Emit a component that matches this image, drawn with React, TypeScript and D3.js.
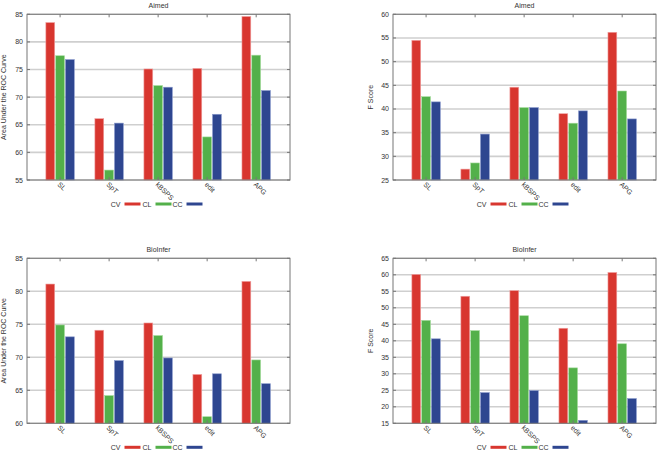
import React from "react";
import * as d3 from "d3";

const categories = ["SL", "SpT", "kBSPS", "edit", "APG"];
const seriesNames = ["CV", "CL", "CC"];
const seriesColors = ["#d8362f", "#53b04a", "#2e4690"];
const seriesStroke = ["#f0a0a0", "#a8dca0", "#8a9acc"];

// Aimed – AUC
const aimedAucCV = [83.5, 66.1, 75.1, 75.2, 84.6];
const aimedAucCL = [77.5, 56.8, 72.1, 62.8, 77.6];
const aimedAucCC = [76.8, 65.3, 71.8, 66.9, 71.2];
// Aimed – F score
const aimedFCV = [54.5, 27.3, 44.6, 39.0, 56.2];
const aimedFCL = [42.6, 28.6, 40.3, 37.0, 43.8];
const aimedFCC = [41.5, 34.7, 40.3, 39.6, 37.9];
// BioInfer – AUC
const bioAucCV = [81.1, 74.1, 75.2, 67.4, 81.5];
const bioAucCL = [74.9, 64.2, 73.3, 61.0, 69.6];
const bioAucCC = [73.1, 69.5, 69.9, 67.5, 66.0];
// BioInfer – F score
const bioFCV = [60.1, 53.5, 55.2, 43.8, 60.7];
const bioFCL = [46.2, 43.1, 47.6, 31.8, 39.1];
const bioFCC = [40.6, 24.3, 24.9, 15.9, 22.5];

const aucAimedTicks = [55, 60, 65, 70, 75, 80, 85];
const fAimedTicks = [25, 30, 35, 40, 45, 50, 55, 60];
const aucBioTicks = [60, 65, 70, 75, 80, 85];
const fBioTicks = [15, 20, 25, 30, 35, 40, 45, 50, 55, 60, 65];

const FONT = "'Liberation Sans', Arial, Helvetica, sans-serif";

type PanelProps = {
  left: number;
  right: number;
  top: number;
  bottom: number;
  title: string;
  ylabel: string;
  ylabelX: number;
  ticks: number[];
  series: number[][];
};

function Panel({ left, right, top, bottom, title, ylabel, ylabelX, ticks, series }: PanelProps) {
  const x = d3.scaleLinear().domain([-0.675, 4.69]).range([left, right]);
  const y = d3
    .scaleLinear()
    .domain([ticks[0], ticks[ticks.length - 1]])
    .range([bottom, top]);
  const offsets = [-0.2, 0, 0.2];
  const bw = x(0.18) - x(0);
  const cx = (left + right) / 2;
  const cy = (top + bottom) / 2;
  const legendY = bottom + 24;
  const legendStart = cx - 46;
  return (
    <g fontFamily={FONT}>
      <text x={cx} y={top - 6} fontSize={7} textAnchor="middle" fill="#333">
        {title}
      </text>
      {ticks.map((t) => (
        <line key={"g" + t} x1={left} x2={right} y1={y(t)} y2={y(t)} stroke="#cfcfcf" strokeWidth={1.6} />
      ))}
      {series.map((vals, si) =>
        vals.map((v, ci) => (
          <rect
            key={si + "-" + ci}
            x={x(ci + offsets[si]) - bw / 2}
            y={y(v)}
            width={bw}
            height={y(ticks[0]) - y(v)}
            fill={seriesColors[si]}
            stroke={seriesStroke[si]}
            strokeWidth={0.6}
          />
        ))
      )}
      <rect x={left} y={top} width={right - left} height={bottom - top} fill="none" stroke="#777" strokeWidth={1} />
      {ticks.map((t) => (
        <g key={"t" + t}>
          <line x1={left} x2={left + 3} y1={y(t)} y2={y(t)} stroke="#777" />
          <line x1={right - 3} x2={right} y1={y(t)} y2={y(t)} stroke="#777" />
          <text x={left - 4} y={y(t) + 2.5} fontSize={7} textAnchor="end" fill="#333">
            {t}
          </text>
        </g>
      ))}
      {categories.map((c, i) => (
        <g key={c}>
          <line x1={x(i)} x2={x(i)} y1={top} y2={top + 3} stroke="#777" />
          <line x1={x(i)} x2={x(i)} y1={bottom - 3} y2={bottom} stroke="#777" />
          <text
            transform={`translate(${x(i) - 3},${bottom + 5}) rotate(45)`}
            fontSize={7}
            fill="#333"
            textAnchor="start"
          >
            {c}
          </text>
        </g>
      ))}
      <text
        transform={`translate(${ylabelX},${cy}) rotate(-90)`}
        fontSize={7}
        textAnchor="middle"
        fill="#333"
      >
        {ylabel}
      </text>
      {seriesNames.map((s, si) => {
        const lx = legendStart + si * 31;
        return (
          <g key={s}>
            <text x={lx + 8} y={legendY + 2.5} fontSize={7} textAnchor="end" fill="#333">
              {s}
            </text>
            <line x1={lx + 12} x2={lx + 28} y1={legendY} y2={legendY} stroke={seriesColors[si]} strokeWidth={3} />
          </g>
        );
      })}
    </g>
  );
}

export default function App() {
  return (
    <svg width={660} height={454} style={{ position: "absolute", left: 0, top: 0, background: "#fff" }}>
      <rect width={660} height={454} fill="#fff" />
      <Panel
        left={27}
        right={290}
        top={14.3}
        bottom={180}
        title="Aimed"
        ylabel="Area Under the ROC Curve"
        ylabelX={6}
        ticks={aucAimedTicks}
        series={[aimedAucCV, aimedAucCL, aimedAucCC]}
      />
      <Panel
        left={393}
        right={656}
        top={14.3}
        bottom={180}
        title="Aimed"
        ylabel="F Score"
        ylabelX={373}
        ticks={fAimedTicks}
        series={[aimedFCV, aimedFCL, aimedFCC]}
      />
      <Panel
        left={27}
        right={290}
        top={258.3}
        bottom={423.3}
        title="BioInfer"
        ylabel="Area Under the ROC Curve"
        ylabelX={6}
        ticks={aucBioTicks}
        series={[bioAucCV, bioAucCL, bioAucCC]}
      />
      <Panel
        left={393}
        right={656}
        top={258.3}
        bottom={423.3}
        title="BioInfer"
        ylabel="F Score"
        ylabelX={373}
        ticks={fBioTicks}
        series={[bioFCV, bioFCL, bioFCC]}
      />
    </svg>
  );
}
